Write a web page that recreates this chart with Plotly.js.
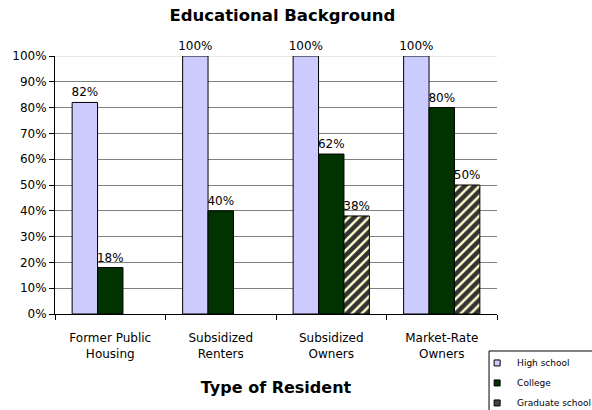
<!DOCTYPE html>
<html><head><meta charset="utf-8">
<script src="https://cdn.plot.ly/plotly-3.0.1.min.js"></script>
<style>html,body{margin:0;padding:0;background:#fff}#chart{width:592px;height:410px}</style>
</head><body><div id="chart"></div>
<script>
const categories = ["Former Public<br>Housing", "Subsidized<br>Renters", "Subsidized<br>Owners", "Market-Rate<br>Owners"];
const seriesNames = ["High school", "College", "Graduate school"];
const highSchool = [82, 100, 100, 100];
const college = [18, 40, 62, 80];
const gradSchool = [0, 0, 38, 50];
const yTicks = [0, 10, 20, 30, 40, 50, 60, 70, 80, 90, 100];

const font = "DejaVu Sans, Verdana, sans-serif";
function labels(arr){ return arr.map(v => v > 0 ? v + "%" : ""); }
function bar(name, y, marker){
  marker.line = {color:"#000", width:y.map(v => v > 0 ? 1 : 0)};
  return {type:"bar", name:name, x:categories, y:y, text:labels(y), textposition:"outside",
    textfont:{family:font, size:12, color:"#000"}, constraintext:"none", cliponaxis:false,
    hoverinfo:"none", showlegend:false, marker:marker};
}
function legendItem(name, color, group){
  return {type:"scatter", mode:"markers", name:name, x:[null], y:[null], hoverinfo:"none", legendgroup:group,
    marker:{symbol:"square", size:6, color:color, line:{color:"#000", width:1}}};
}
const data = [
  bar(seriesNames[0], highSchool, {color:"#ccccff"}),
  bar(seriesNames[1], college, {color:"#003300"}),
  bar(seriesNames[2], gradSchool, {color:"#333333",
    pattern:{shape:"/", bgcolor:"#333333", fgcolor:"#ffffcc", fgopacity:1, size:7, solidity:0.35}}),
  legendItem(seriesNames[0], "#ccccff", "a"),
  legendItem(seriesNames[1], "#003300", "b"),
  legendItem(seriesNames[2], "#444444", "c")
];
const layout = {
  width:592, height:410, paper_bgcolor:"#fff", plot_bgcolor:"#fff",
  margin:{l:55, r:95, t:56, b:96, autoexpand:false},
  font:{family:font, size:12, color:"#000"},
  title:{text:"<b>Educational Background</b>", font:{family:font, size:16.5, color:"#000"}, x:0.477, xanchor:"center", y:0.964, yanchor:"middle"},
  barmode:"group", bargap:0.31, bargroupgap:0,
  xaxis:{type:"category", showline:true, linecolor:"#000", linewidth:1, ticks:"outside", ticklen:5, tickcolor:"#000",
    tickson:"boundaries", showgrid:false, ticklabelstandoff:13, tickfont:{family:font, size:12, color:"#000"},
    title:{text:"<b>Type of Resident</b>", font:{family:font, size:16, color:"#000"}, standoff:21}},
  yaxis:{range:[0,100], tickvals:yTicks, ticktext:yTicks.map(v => v + "%"), showline:true, linecolor:"#000", linewidth:1,
    ticks:"outside", ticklen:5, tickcolor:"#000", showgrid:true, gridcolor:"#808080", gridwidth:1,
    zeroline:false, tickfont:{family:font, size:12, color:"#000"}},
  shapes:[
    {type:"line", xref:"paper", yref:"y", x0:0, x1:1, y0:100, y1:100, line:{color:"#d0d0d0", width:1}, layer:"between"},
    {type:"rect", xref:"paper", yref:"paper", x0:0.982, x1:1.3, y0:-0.1434, y1:-0.5, line:{color:"#000", width:1}, fillcolor:"rgba(0,0,0,0)", layer:"above"}
  ],
  showlegend:true,
  legend:{x:0.955, xanchor:"left", y:-0.1335, yanchor:"top", bgcolor:"rgba(0,0,0,0)", borderwidth:0,
    font:{family:font, size:9, color:"#000"}, itemwidth:30, tracegroupgap:1, traceorder:"grouped"}
};
Plotly.newPlot("chart", data, layout, {staticPlot:true});
</script></body></html>
